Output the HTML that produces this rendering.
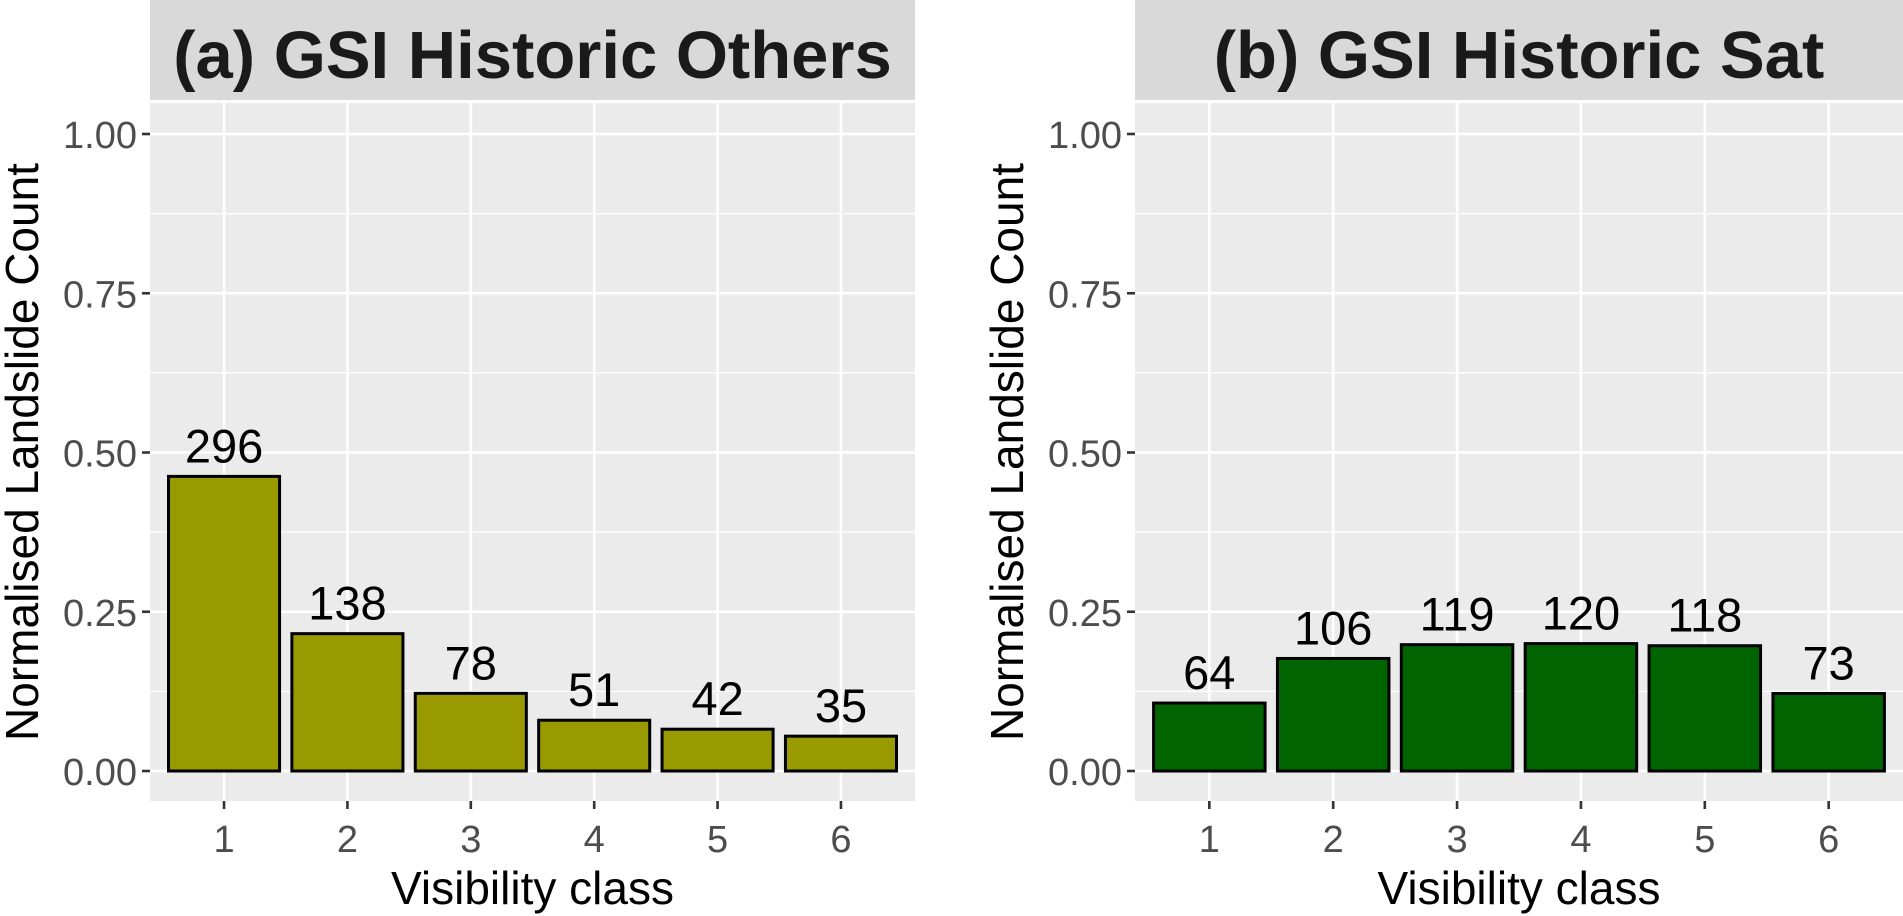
<!DOCTYPE html>
<html><head><meta charset="utf-8"><style>
html,body{margin:0;padding:0;background:#fff;}
svg{display:block;font-family:"Liberation Sans",Arial,sans-serif;}
</style></head><body>
<svg id="chart" width="1903" height="916"></svg>
<script>
const categories=["1","2","3","4","5","6"];
const countsA=[296,138,78,51,42,35];
const countsB=[64,106,119,120,118,73];
const yTicks=[0,0.25,0.5,0.75,1.0];
const yTickLabels=["0.00","0.25","0.50","0.75","1.00"];
const titles=["(a) GSI Historic Others","(b) GSI Historic Sat"];
const colors=["#999900","#006400"];

const NS="http://www.w3.org/2000/svg";
const svgEl=document.getElementById('chart');
function mk(tag,attrs,parent){const e=document.createElementNS(NS,tag);for(const k in attrs)e.setAttribute(k,attrs[k]);(parent||svgEl).appendChild(e);return e;}
const panels=[{x0:150,x1:915,counts:countsA},{x0:1135,x1:1903,counts:countsB}];
const plotTop=103,plotBottom=801,yZero=771,yOne=134;
function yScale(v){return yZero-(yZero-yOne)*v;}
panels.forEach((p,pi)=>{
  const unit=(p.x1-p.x0)/6.2;
  const xScale=i=>p.x0+(i+0.6)*unit;
  const g=mk('g',{});
  
  
  const strip=mk('rect',{x:p.x0,y:0,width:p.x1-p.x0,height:plotTop-3,fill:'#d9d9d9'},g);
  
  
  const st=mk('text',{x:(p.x0+p.x1)/2,y:78,'text-anchor':'middle','font-size':67,'font-weight':'bold',fill:'#1a1a1a'},g);
  st.textContent=titles[pi];
  
  
  const bg=mk('rect',{x:p.x0,y:plotTop,width:p.x1-p.x0,height:plotBottom-plotTop,fill:'#ebebeb'},g);
  
  
  for(let i=0;i<yTicks.length-1;i++){
    const yy=yScale((yTicks[i]+yTicks[i+1])/2);
    const l=mk('line',{x1:p.x0,x2:p.x1,y1:yy,y2:yy,stroke:'#fff','stroke-width':1.3},g);
    
    
  }
  yTicks.forEach((v,i)=>{
    const yy=yScale(v);
    const l=mk('line',{x1:p.x0,x2:p.x1,y1:yy,y2:yy,stroke:'#fff','stroke-width':2.6},g);
    
    
    const t=mk('line',{x1:p.x0-8,x2:p.x0,y1:yy,y2:yy,stroke:'#333','stroke-width':2.6},g);
    
    
    const tl=mk('text',{x:p.x0-13,y:yy+14,'text-anchor':'end','font-size':38,fill:'#4d4d4d'},g);
    tl.textContent=yTickLabels[i];
    
    
  });
  categories.forEach((c,i)=>{
    const xx=xScale(i);
    const l=mk('line',{x1:xx,x2:xx,y1:plotTop,y2:plotBottom,stroke:'#fff','stroke-width':2.6},g);
    
    
  });
  const total=p.counts.reduce((a,b)=>a+b,0);
  categories.forEach((c,i)=>{
    const xx=xScale(i),v=p.counts[i]/total,yy=yScale(v);
    const b=mk('rect',{x:xx-0.45*unit,y:yy,width:0.9*unit,height:yZero-yy,fill:colors[pi],stroke:'#000','stroke-width':3},g);
    
    
    const bl=mk('text',{x:xx,y:yy-14,'text-anchor':'middle','font-size':47,fill:'#000'},g);
    bl.textContent=p.counts[i];
    
    
    const t=mk('line',{x1:xx,x2:xx,y1:plotBottom,y2:plotBottom+8,stroke:'#333','stroke-width':2.6},g);
    
    
    const tl=mk('text',{x:xx,y:852,'text-anchor':'middle','font-size':38,fill:'#4d4d4d'},g);
    tl.textContent=c;
    
    
  });
  const xt=mk('text',{x:(p.x0+p.x1)/2,y:904,'text-anchor':'middle','font-size':46,fill:'#000'},g);
  xt.textContent='Visibility class';
  
  
  const yx=p.x0-112;
  const yt=mk('text',{x:yx,y:(plotTop+plotBottom)/2,'text-anchor':'middle','font-size':46,fill:'#000',transform:`rotate(-90 ${yx} ${(plotTop+plotBottom)/2})`},g);
  yt.textContent='Normalised Landslide Count';
  
  
});
</script>
</body></html>
